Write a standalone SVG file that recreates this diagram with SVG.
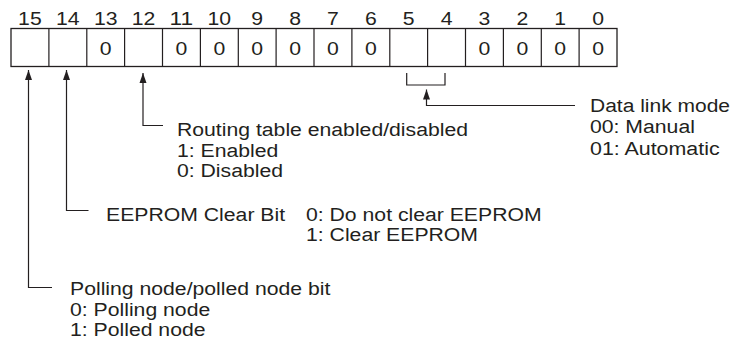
<svg xmlns="http://www.w3.org/2000/svg" width="731" height="342" viewBox="0 0 731 342">
<style>
.t{font-family:"Liberation Sans",Arial,Helvetica,sans-serif;font-size:18px;fill:#231f20}
.c{text-anchor:middle}
.box{fill:#fff;stroke:#231f20;stroke-width:1.3}
.ln{fill:none;stroke:#231f20;stroke-width:1.2}
</style>
<defs>
<marker id="ah" markerUnits="userSpaceOnUse" markerWidth="11" markerHeight="8" refX="10" refY="3.5" orient="auto" viewBox="0 0 11 7">
<path d="M0 0 L10 3.5 L0 7 Z" fill="#231f20"/>
</marker>
</defs>
<rect width="731" height="342" fill="#fff"/>
<g id="register">
<rect class="box" x="11" y="28.5" width="606" height="38"/>
<path class="ln" stroke-width="1.3" d="M48.9 28.5V66.5M86.8 28.5V66.5M124.6 28.5V66.5M162.5 28.5V66.5M200.4 28.5V66.5M238.3 28.5V66.5M276.1 28.5V66.5M314 28.5V66.5M351.9 28.5V66.5M389.8 28.5V66.5M427.6 28.5V66.5M465.5 28.5V66.5M503.4 28.5V66.5M541.3 28.5V66.5M579.1 28.5V66.5"/>
<g class="t c">
<text x="29.9" y="25" textLength="23.6" lengthAdjust="spacingAndGlyphs">15</text>
<text x="67.8" y="25" textLength="23.6" lengthAdjust="spacingAndGlyphs">14</text>
<text x="105.7" y="25" textLength="23.6" lengthAdjust="spacingAndGlyphs">13</text>
<text x="143.6" y="25" textLength="23.6" lengthAdjust="spacingAndGlyphs">12</text>
<text x="181.4" y="25" textLength="23.6" lengthAdjust="spacingAndGlyphs">11</text>
<text x="219.3" y="25" textLength="23.6" lengthAdjust="spacingAndGlyphs">10</text>
<text x="257.2" y="25" textLength="11.8" lengthAdjust="spacingAndGlyphs">9</text>
<text x="295.1" y="25" textLength="11.8" lengthAdjust="spacingAndGlyphs">8</text>
<text x="332.9" y="25" textLength="11.8" lengthAdjust="spacingAndGlyphs">7</text>
<text x="370.8" y="25" textLength="11.8" lengthAdjust="spacingAndGlyphs">6</text>
<text x="408.7" y="25" textLength="11.8" lengthAdjust="spacingAndGlyphs">5</text>
<text x="446.6" y="25" textLength="11.8" lengthAdjust="spacingAndGlyphs">4</text>
<text x="484.4" y="25" textLength="11.8" lengthAdjust="spacingAndGlyphs">3</text>
<text x="522.3" y="25" textLength="11.8" lengthAdjust="spacingAndGlyphs">2</text>
<text x="560.2" y="25" textLength="11.8" lengthAdjust="spacingAndGlyphs">1</text>
<text x="598.1" y="25" textLength="11.8" lengthAdjust="spacingAndGlyphs">0</text>
<text x="105.7" y="55" textLength="11.8" lengthAdjust="spacingAndGlyphs">0</text>
<text x="181.4" y="55" textLength="11.8" lengthAdjust="spacingAndGlyphs">0</text>
<text x="219.3" y="55" textLength="11.8" lengthAdjust="spacingAndGlyphs">0</text>
<text x="257.2" y="55" textLength="11.8" lengthAdjust="spacingAndGlyphs">0</text>
<text x="295.1" y="55" textLength="11.8" lengthAdjust="spacingAndGlyphs">0</text>
<text x="332.9" y="55" textLength="11.8" lengthAdjust="spacingAndGlyphs">0</text>
<text x="370.8" y="55" textLength="11.8" lengthAdjust="spacingAndGlyphs">0</text>
<text x="484.4" y="55" textLength="11.8" lengthAdjust="spacingAndGlyphs">0</text>
<text x="522.3" y="55" textLength="11.8" lengthAdjust="spacingAndGlyphs">0</text>
<text x="560.2" y="55" textLength="11.8" lengthAdjust="spacingAndGlyphs">0</text>
<text x="598.1" y="55" textLength="11.8" lengthAdjust="spacingAndGlyphs">0</text>
</g>
</g>
<g id="connectors">
<path class="ln" d="M52 287.5H28.5V70" marker-end="url(#ah)"/>
<path class="ln" d="M88.5 210.5H66.5V70" marker-end="url(#ah)"/>
<path class="ln" d="M163 125.5H143V73" marker-end="url(#ah)"/>
<path class="ln" d="M406.7 73V85H445V73"/>
<path class="ln" d="M575 105.5H426.5V89.5" marker-end="url(#ah)"/>
</g>
<g id="routing" class="t">
<text x="177" y="136" textLength="291" lengthAdjust="spacingAndGlyphs">Routing table enabled/disabled</text>
<text x="177" y="156.5" textLength="101.4" lengthAdjust="spacingAndGlyphs">1: Enabled</text>
<text x="177" y="177" textLength="106" lengthAdjust="spacingAndGlyphs">0: Disabled</text>
</g>
<g id="datalink" class="t">
<text x="590" y="111.5" textLength="140" lengthAdjust="spacingAndGlyphs">Data link mode</text>
<text x="590" y="133" textLength="104.9" lengthAdjust="spacingAndGlyphs">00: Manual</text>
<text x="590" y="154.5" textLength="129.6" lengthAdjust="spacingAndGlyphs">01: Automatic</text>
</g>
<g id="eeprom" class="t">
<text x="106" y="220.5" textLength="179.1" lengthAdjust="spacingAndGlyphs">EEPROM Clear Bit</text>
<text x="306" y="220.5" textLength="235.6" lengthAdjust="spacingAndGlyphs">0: Do not clear EEPROM</text>
<text x="306" y="241" textLength="172" lengthAdjust="spacingAndGlyphs">1: Clear EEPROM</text>
</g>
<g id="polling" class="t">
<text x="70" y="295" textLength="260.4" lengthAdjust="spacingAndGlyphs">Polling node/polled node bit</text>
<text x="70" y="315.5" textLength="140.2" lengthAdjust="spacingAndGlyphs">0: Polling node</text>
<text x="70" y="336" textLength="135.5" lengthAdjust="spacingAndGlyphs">1: Polled node</text>
</g>
</svg>
